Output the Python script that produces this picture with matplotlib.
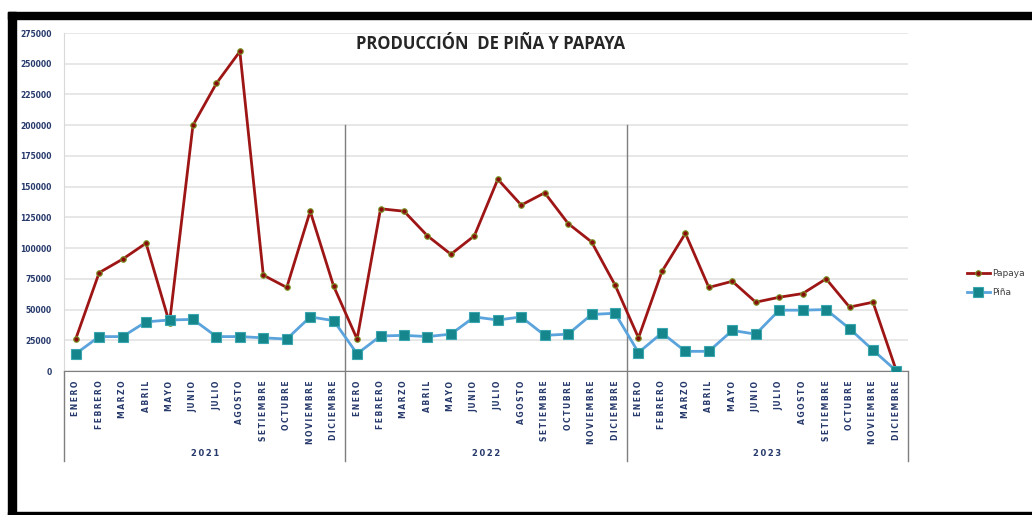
import numpy as np
import matplotlib
matplotlib.use("Agg")
import matplotlib.pyplot as plt
from matplotlib.patches import Rectangle

# datos
meses = ["ENERO", "FEBRERO", "MARZO", "ABRIL", "MAYO", "JUNIO", "JULIO",
         "AGOSTO", "SETIEMBRE", "OCTUBRE", "NOVIEMBRE", "DICIEMBRE"]
anios = ["2021", "2022", "2023"]

papaya_2021 = [26000, 80000, 91000, 104000, 39000, 200000, 234000, 260000, 78000, 68000, 130000, 69000]
papaya_2022 = [26000, 132000, 130000, 110000, 95000, 110000, 156000, 135000, 145000, 120000, 105000, 70000]
papaya_2023 = [27000, 81000, 112000, 68000, 73000, 56000, 60000, 63000, 75000, 52000, 56000, 0]

pina_2021 = [14000, 28000, 28000, 40000, 41500, 42000, 28000, 28000, 27000, 26000, 44000, 41000]
pina_2022 = [14000, 28500, 29000, 28000, 30000, 44000, 41500, 44000, 29000, 30000, 46000, 47000]
pina_2023 = [15000, 31000, 16000, 16000, 33000, 30000, 49500, 49500, 50000, 34500, 17000, 0]

papaya = papaya_2021 + papaya_2022 + papaya_2023
pina = pina_2021 + pina_2022 + pina_2023
x = np.arange(len(papaya))

navy = "#26396b"

fig = plt.figure(figsize=(10.32, 5.15), dpi=100)
ax = fig.add_axes([0.062, 0.2796, 0.818, 0.6563])

ax.plot(x, papaya, color="#9e1515", lw=2, marker="o", ms=4,
        mfc="#8b0c0c", mec="#7a9a2a", mew=0.8, label="Papaya", zorder=3)
ax.plot(x, pina, color="#5aa3dc", lw=2, marker="s", ms=7,
        mfc="#15868c", mec="#3aa6b0", mew=0.8, label="Piña", zorder=3)

ax.set_xlim(-0.5, len(x) - 0.5)
ax.set_ylim(0, 275000)
ax.set_yticks(np.arange(0, 275001, 25000))
ax.yaxis.grid(True, color="#e3e3e3", lw=1.2)
ax.set_axisbelow(True)
ax.tick_params(axis="y", length=0, pad=9, labelsize=5.5, labelcolor=navy)
for t in ax.get_yticklabels():
    t.set_fontweight("bold")

spaced = ["\u2009".join(m) for m in meses] * 3
ax.set_xticks(x)
ax.set_xticklabels(spaced, rotation=90, va="top", ha="center",
                   fontsize=5.5, color=navy, fontweight="bold")
ax.tick_params(axis="x", length=0, pad=7)

for s in ["top", "right"]:
    ax.spines[s].set_visible(False)
ax.spines["left"].set_color("#d9d9d9")
ax.spines["bottom"].set_color("#7f7f7f")

# separadores de años y etiquetas de año
trans = ax.get_xaxis_transform()
for i, a in enumerate(anios):
    ax.text(i * 12 + 5.5, -0.245, "\u2009".join(a), transform=trans,
            ha="center", va="center", fontsize=6, color=navy, fontweight="bold")
for b in [-0.5, 35.5]:
    ax.plot([b, b], [0, -0.266], transform=trans, color="#7f7f7f", lw=1, clip_on=False)
for b in [11.5, 23.5]:
    ax.plot([b, b], [200000 / 275000, -0.266], transform=trans, color="#7f7f7f",
            lw=1, clip_on=False, zorder=1)

fig.text(491 / 1032, 1 - 44 / 515, "PRODUCCIÓN  DE PIÑA Y PAPAYA",
         ha="center", va="center", fontsize=12, fontweight="bold",
         color="#262626", family="Open Sans")

ax.legend(loc="center left", bbox_to_anchor=(962 / 1032, 1 - 283 / 515),
          bbox_transform=fig.transFigure, frameon=False, borderpad=0,
          fontsize=6.5, handlelength=2.6, labelspacing=1.1, handletextpad=0.2,
          labelcolor="#404040")

# marco negro de la captura
fig.patches.append(Rectangle((8 / 1032, 1 - 19 / 515), 1, 7 / 515,
                             transform=fig.transFigure, color="black"))
fig.patches.append(Rectangle((8 / 1032, 0), 8 / 1032, 1 - 12 / 515,
                             transform=fig.transFigure, color="black"))
fig.patches.append(Rectangle((8 / 1032, 0), 1, 3 / 515,
                             transform=fig.transFigure, color="black"))

fig.savefig("out.png", dpi=100)
